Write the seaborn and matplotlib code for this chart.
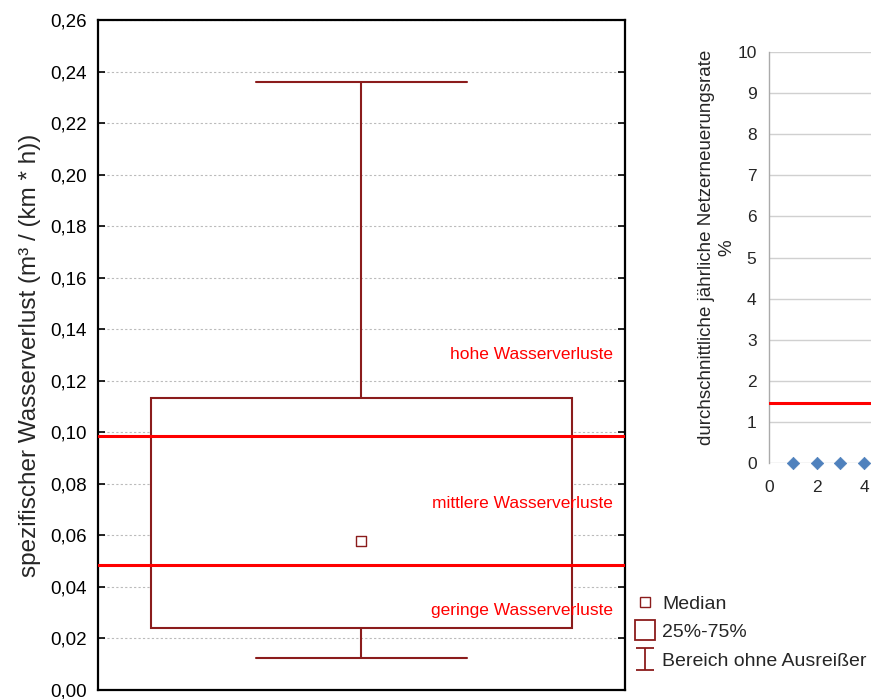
import numpy as np
import pandas as pd
import matplotlib
matplotlib.use("Agg")
import matplotlib.pyplot as plt
import seaborn as sns
from matplotlib.lines import Line2D
from matplotlib.path import Path
from matplotlib.ticker import FuncFormatter, MultipleLocator

# box plot summary: min, Q1, median, Q3, max
loss_stats = [0.0124, 0.0241, 0.0578, 0.1133, 0.236]
median_value = 0.0578
thresholds = [0.0986, 0.0485]
zone_labels = ["hohe Wasserverluste", "mittlere Wasserverluste", "geringe Wasserverluste"]
zone_label_y = [0.1303, 0.0722, 0.031]

# inset
renewal_x = [1, 2, 3, 4]
renewal_y = [0, 0, 0, 0]
renewal_mean = 1.45

maroon = "#8B1C1C"
red = "#FF0000"

sns.set_theme(style="white")
plt.rcParams["font.family"] = ["Liberation Sans", "DejaVu Sans"]

fig = plt.figure(figsize=(8.71, 6.99), dpi=100)
ax = fig.add_axes([0.1125, 0.0129, 0.605, 0.9585])

df = pd.DataFrame({"value": loss_stats})
sns.boxplot(data=df, y="value", whis=(0, 100), width=0.8, color="white",
            linecolor=maroon, linewidth=1.5, saturation=1,
            medianprops={"linewidth": 0}, ax=ax, zorder=2)

sns.scatterplot(x=[0], y=[median_value], marker="s", s=45, facecolor="white",
                edgecolor=maroon, linewidth=1.0, ax=ax, zorder=5)

for t in thresholds:
    ax.axhline(t, color=red, linewidth=2.2, zorder=4)

for lab, yy in zip(zone_labels, zone_label_y):
    ax.text(0.477, yy, lab, color=red, fontsize=12.5, ha="right", va="center", zorder=6)

ax.set_xlim(-0.5, 0.5)
ax.set_ylim(0, 0.26)
ax.set_xticks([])
ax.set_xlabel("")
ax.yaxis.set_major_locator(MultipleLocator(0.02))
ax.yaxis.set_major_formatter(FuncFormatter(lambda v, p: f"{v:.2f}".replace(".", ",")))
ax.tick_params(axis="y", direction="in", length=5, width=1.2, labelsize=13.5,
               left=True, right=True, pad=8, colors="black")
ax.grid(axis="y", color="#BBBBBB", linestyle=(0, (2, 2)), linewidth=0.8, zorder=0)
ax.set_axisbelow(True)
for s in ax.spines.values():
    s.set_color("black")
    s.set_linewidth(1.6)
ax.set_ylabel("spezifischer Wasserverlust (m³ / (km * h))", fontsize=17.5, labelpad=7)

# legend
whisker_path = Path([(-0.8, 1), (0.8, 1), (0, 1), (0, -1), (-0.8, -1), (0.8, -1)],
                    [Path.MOVETO, Path.LINETO, Path.MOVETO, Path.LINETO, Path.MOVETO, Path.LINETO])
handles = [
    Line2D([], [], marker="s", markersize=6.5, markerfacecolor="white",
           markeredgecolor=maroon, markeredgewidth=1.0, linestyle="none"),
    Line2D([], [], marker="s", markersize=14, markerfacecolor="white",
           markeredgecolor=maroon, markeredgewidth=1.3, linestyle="none"),
    Line2D([], [], marker=whisker_path, markersize=16, markerfacecolor="none",
           markeredgecolor=maroon, markeredgewidth=1.3, linestyle="none"),
]
fig.legend(handles, ["Median", "25%-75%", "Bereich ohne Ausreißer"],
           loc="lower left", bbox_to_anchor=(0.7209, 0.031), frameon=False,
           fontsize=14, handlelength=1.0, handletextpad=0.35, labelspacing=0.55,
           borderaxespad=0)

# inset: renewal rate
ax2 = fig.add_axes([0.8829, 0.3376, 0.1171, 0.588])
ax2.axhline(renewal_mean, color=red, linewidth=2.2, zorder=3)
sns.scatterplot(x=renewal_x, y=renewal_y, marker="D", s=40, color="#4F81BD",
                edgecolor="#4F81BD", ax=ax2, clip_on=False, zorder=4)
ax2.set_xlim(0, 4.29)
ax2.set_ylim(0, 10)
ax2.set_yticks(range(0, 11))
ax2.set_xticks([0, 2, 4])
ax2.grid(axis="y", color="#D0D0D0", linewidth=1.0, zorder=0)
ax2.set_axisbelow(True)
for k in ["top", "right", "bottom"]:
    ax2.spines[k].set_visible(False)
ax2.spines["left"].set_color("#AAAAAA")
ax2.spines["left"].set_linewidth(1.0)
ax2.tick_params(axis="y", direction="out", length=5, color="#D0D0D0", labelsize=12.5, pad=4)
ax2.tick_params(axis="x", length=0, labelsize=12.5, pad=12)
ax2.set_xlabel("")
ax2.set_ylabel("durchschnittliche jährliche Netzerneuerungsrate\n%", fontsize=13.5,
               linespacing=1.25)
ax2.yaxis.set_label_coords(-0.33, 0.524)

fig.savefig("out.png", dpi=100)
